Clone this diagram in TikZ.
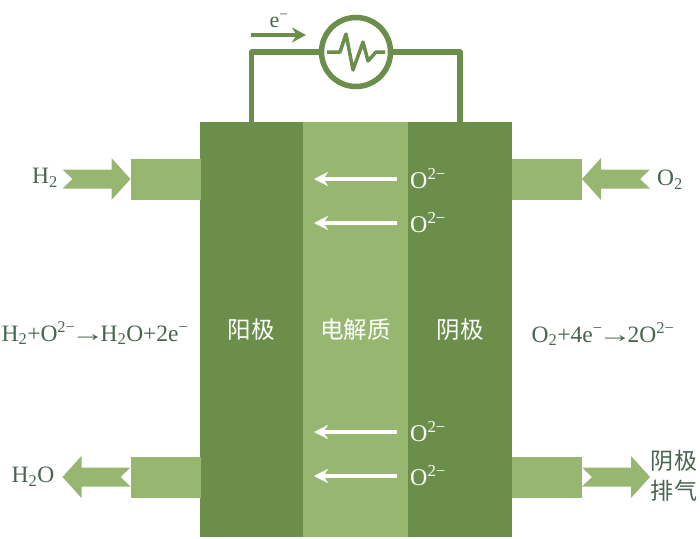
\documentclass[tikz,border=0pt]{standalone}
\usepackage{fontspec}
\setmainfont{Liberation Serif}
\newfontfamily\cjk{Noto Sans CJK SC}[Scale=0.96]
\usepackage{xcolor}
\usepackage{graphicx}
\usepackage{tikz}
\usetikzlibrary{arrows.meta,positioning,calc}
\definecolor{darkGreen}{RGB}{107,142,74}
\definecolor{lightGreen}{RGB}{151,183,113}
\definecolor{labelGreen}{RGB}{72,100,80}
\newcommand{\yields}{\kern-4.5pt\scalebox{1.45}[1]{→}\kern-4.5pt}
\begin{document}
\begin{tikzpicture}[x=1pt,y=-1pt,
                layer/.style={minimum height=415pt,inner sep=0pt,outer sep=0pt,font=\cjk\fontsize{24.5}{28}\selectfont,text=white},
                portbox/.style={fill=lightGreen,minimum width=70pt,minimum height=41pt,inner sep=0pt,outer sep=0pt},
                wire/.style={draw=darkGreen,line width=5.5pt,line join=round},
                ion/.style={draw=white,line width=3.5pt,-{Stealth[length=14pt,width=14pt]}},
                ionlabel/.style={font=\fontsize{24}{28}\selectfont,text=white,anchor=west,inner sep=0pt},
                chem/.style={font=\fontsize{23.5}{28}\selectfont,text=labelGreen,inner sep=0pt},
                flowarrow/.pic={\fill[lightGreen] (-68,-9.5) -- (-19,-9.5) -- (-19,-21) -- (0,0) -- (-19,21) -- (-19,9.5) -- (-68,9.5) -- (-58,0) -- cycle;}
            ]
                \useasboundingbox (0,0) rectangle (700,538);
                % cell
                \node[layer,fill=darkGreen,minimum width=103pt] (anode) at (251.5,329.5) {阳极};
                \node[layer,fill=lightGreen,minimum width=105pt,right=0pt of anode] (electrolyte) {电解质};
                \node[layer,fill=darkGreen,minimum width=104pt,right=0pt of electrolyte] (cathode) {阴极};
                % gas ports
                \node[portbox] (h2box) at (165.5,179) {};
                \node[portbox] (o2box) at (547,179) {};
                \node[portbox] (h2obox) at (165.5,477) {};
                \node[portbox] (exhaustbox) at (547,477) {};
                \pic at (h2box.west) {flowarrow};
                \pic[xscale=-1] at (o2box.east) {flowarrow};
                \pic[xscale=-1] at ([xshift=-68pt]h2obox.west) {flowarrow};
                \pic at ([xshift=68pt]exhaustbox.east) {flowarrow};
                % external circuit
                \node[circle,draw=darkGreen,line width=5.5pt,minimum size=69pt,inner sep=0pt] (meter) at (356,52) {};
                \draw[wire] (anode.north) |- (meter.west);
                \draw[wire] (cathode.north) |- (meter.east);
                \draw[draw=darkGreen,line width=3.5pt,line join=round] (327,52) -- (340,52) -- (346,34) -- (353,70) -- (363,42) -- (368,61) -- (376,52) -- (385,52);
                \node[font=\fontsize{22}{26}\selectfont,text=labelGreen,inner sep=0pt] (elabel) at (279,21) {e\textsuperscript{−}};
                \coordinate (eleft) at (251,35);
                \coordinate (eright) at (306,35);
                \draw[draw=darkGreen,line width=3.5pt,-{Stealth[length=14pt,width=15pt]}] (eleft) -- (eright);
                % oxygen ions
                \foreach \name/\ypos in {ionA/179,ionB/223,ionC/432,ionD/476}{
                    \node[ionlabel] (\name) at (410,\ypos) {O\textsuperscript{2−}};
                    \coordinate (\name tip) at (314,\ypos);
                    \draw[ion] ([xshift=-13pt]\name.west) -- (\name tip);
                }
                % labels
                \node[chem] (h2) at (45,178) {H\textsubscript{2}};
                \node[chem] (o2) at (670,180) {O\textsubscript{2}};
                \node[chem] (h2o) at (33,477) {H\textsubscript{2}O};
                \node[chem,font=\cjk\fontsize{24}{30}\selectfont,align=center] (exhaust) at (674,476) {阴极\\排气};
                \node[chem] (anodeeq) at (95,333) {H\textsubscript{2}+O\textsuperscript{2−}\yields H\textsubscript{2}O+2e\textsuperscript{−}};
                \node[chem] (cathodeeq) at (603,334) {O\textsubscript{2}+4e\textsuperscript{−}\yields 2O\textsuperscript{2−}};
            \end{tikzpicture}
\end{document}
